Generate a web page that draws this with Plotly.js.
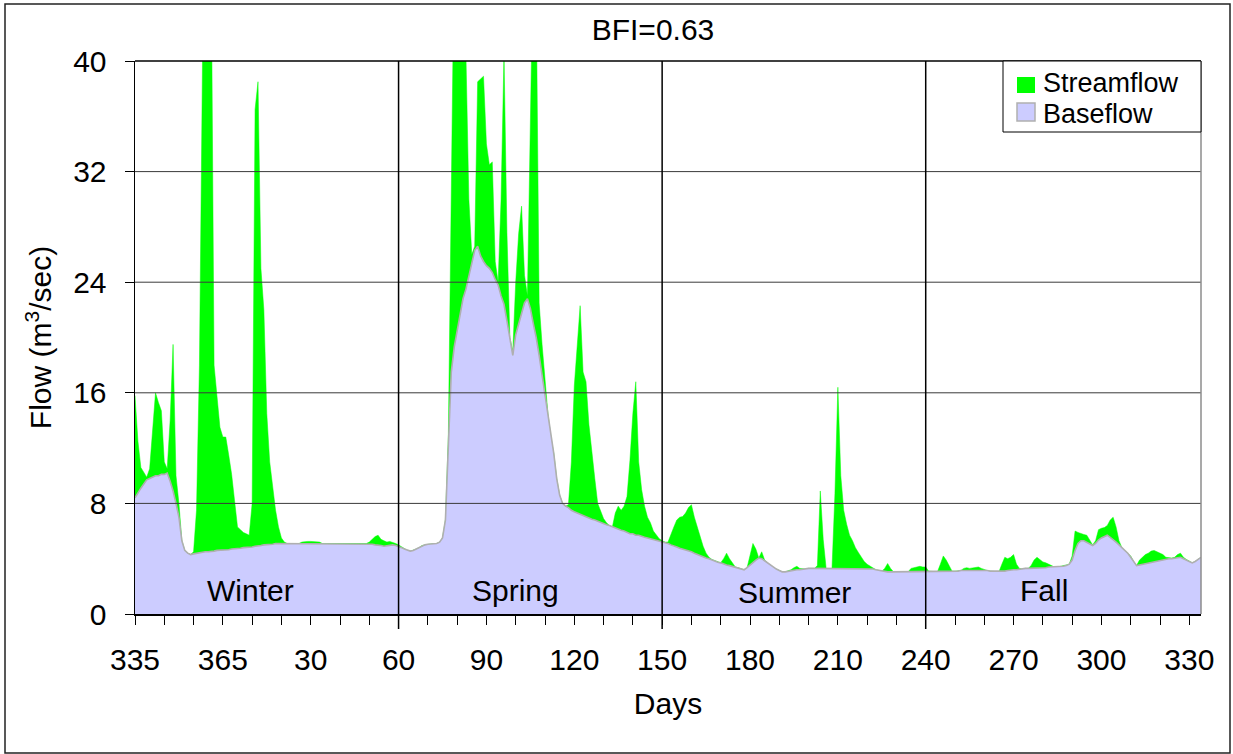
<!DOCTYPE html>
<html>
<head>
<meta charset="utf-8">
<script src="https://cdn.plot.ly/plotly-3.0.1.min.js"></script>
<style>
  html, body { margin: 0; padding: 0; background: #ffffff; }
  #chart { width: 1233px; height: 754px; }
</style>
</head>
<body>
<div id="chart"></div>
<script>
// Day-of-year sequence runs from 335 (1 Dec) through 365 and then 1..334.
const tickPositions = [0, 30, 60, 90, 120, 150, 180, 210, 240, 270, 300, 330, 360];
const tickLabels = ['335', '365', '30', '60', '90', '120', '150', '180', '210', '240', '270', '300', '330'];
const seasonNames = ['Winter', 'Spring', 'Summer', 'Fall'];
const seasonBoundaries = [90, 180, 270]; // days 60, 150, 240
const bfiText = 'BFI=0.63';

// Baseflow (m3/sec), one value per day
const baseflow = [
  8.4, 8.8, 9.1, 9.4, 9.7, 9.8, 9.9, 10.0, 10.0, 10.1,
  10.1, 10.2, 9.6, 8.9, 8.0, 7.0, 5.3, 4.6, 4.4, 4.3,
  4.35, 4.4, 4.45, 4.45, 4.5, 4.5, 4.5, 4.55, 4.6, 4.6,
  4.6, 4.6, 4.65, 4.7, 4.7, 4.7, 4.75, 4.8, 4.8, 4.8,
  4.85, 4.9, 4.9, 4.95, 5.0, 5.0, 5.0, 5.05, 5.1, 5.1,
  5.1, 5.1, 5.1, 5.1, 5.1, 5.1, 5.1, 5.1, 5.1, 5.1,
  5.1, 5.1, 5.1, 5.1, 5.1, 5.1, 5.1, 5.1, 5.1, 5.1,
  5.1, 5.1, 5.1, 5.1, 5.1, 5.1, 5.1, 5.1, 5.1, 5.1,
  5.1, 5.05, 5.0, 5.0, 4.95, 4.9, 4.95, 4.95, 5.0, 4.95,
  4.9, 4.8, 4.7, 4.6, 4.55, 4.6, 4.7, 4.8, 4.95, 5.0,
  5.05, 5.05, 5.1, 5.1, 5.2, 5.5, 6.8, 12.5, 17.5, 19.3,
  20.5, 21.6, 22.8, 23.5, 24.5, 25.4, 26.3, 26.6, 25.9, 25.5,
  25.2, 25.0, 24.7, 24.2, 23.8, 23.0, 22.4, 21.2, 19.8, 18.7,
  20.2, 21.0, 21.7, 22.5, 22.8, 22.1, 21.0, 20.0, 18.7, 17.3,
  15.6, 14.5, 12.8, 11.6, 9.8, 8.6, 8.0, 7.8, 7.7, 7.5,
  7.4, 7.3, 7.2, 7.1, 7.0, 6.95, 6.85, 6.8, 6.7, 6.6,
  6.5, 6.45, 6.4, 6.3, 6.2, 6.1, 6.05, 6.0, 5.9, 5.8,
  5.8, 5.7, 5.7, 5.6, 5.55, 5.5, 5.45, 5.4, 5.3, 5.3,
  5.25, 5.15, 5.1, 5.0, 4.95, 4.85, 4.75, 4.7, 4.6, 4.55,
  4.5, 4.4, 4.3, 4.2, 4.15, 4.05, 4.0, 3.9, 3.85, 3.75,
  3.7, 3.6, 3.55, 3.5, 3.45, 3.4, 3.35, 3.3, 3.2, 3.35,
  3.55, 3.75, 3.9, 4.05, 4.0, 3.85, 3.7, 3.5, 3.35, 3.25,
  3.15, 3.05, 3.05, 3.1, 3.15, 3.2, 3.2, 3.2, 3.25, 3.25,
  3.3, 3.3, 3.3, 3.3, 3.3, 3.3, 3.3, 3.3, 3.3, 3.3,
  3.3, 3.3, 3.3, 3.3, 3.3, 3.3, 3.3, 3.3, 3.3, 3.3,
  3.3, 3.25, 3.25, 3.2, 3.15, 3.1, 3.05, 3.05, 3.05, 3.05,
  3.05, 3.05, 3.05, 3.05, 3.05, 3.05, 3.05, 3.05, 3.05, 3.05,
  3.05, 3.1, 3.1, 3.05, 3.05, 3.05, 3.05, 3.05, 3.1, 3.1,
  3.1, 3.1, 3.15, 3.15, 3.2, 3.2, 3.2, 3.2, 3.2, 3.15,
  3.15, 3.15, 3.1, 3.1, 3.05, 3.05, 3.1, 3.1, 3.15, 3.2,
  3.2, 3.2, 3.25, 3.25, 3.3, 3.3, 3.3, 3.3, 3.35, 3.35,
  3.35, 3.35, 3.4, 3.4, 3.4, 3.4, 3.45, 3.45, 3.5, 3.6,
  3.9, 4.6, 5.1, 5.3, 5.3, 5.2, 5.1, 4.95, 5.1, 5.35,
  5.5, 5.6, 5.7, 5.55, 5.4, 5.2, 5.0, 4.8, 4.55, 4.4,
  4.1, 3.8, 3.5, 3.55, 3.6, 3.65, 3.7, 3.75, 3.8, 3.85,
  3.9, 3.9, 3.95, 4.0, 4.0, 4.05, 4.1, 4.1, 4.0, 3.9,
  3.8, 3.7, 3.8, 3.95, 4.1
];

// Streamflow (m3/sec), one value per day (peaks above 40 are cut by the axis)
const streamflow = [
  15.8, 12.5, 10.6, 10.2, 9.9, 10.5, 13.5, 16.0, 15.3, 14.7,
  11.0, 10.5, 14.0, 19.5, 10.0, 8.0, 5.3, 4.6, 4.4, 4.3,
  4.5, 7.5, 18.0, 42, 60, 55, 48, 18.0, 15.5, 13.5,
  12.8, 12.8, 11.5, 10.1, 8.2, 6.3, 6.1, 5.9, 5.8, 5.7,
  8.0, 36.5, 38.5, 25.0, 22.0, 14.5, 11.0, 9.2, 7.5, 6.3,
  5.5, 5.2, 5.1, 5.1, 5.1, 5.1, 5.1, 5.2, 5.25, 5.25,
  5.25, 5.25, 5.25, 5.2, 5.1, 5.1, 5.1, 5.1, 5.1, 5.1,
  5.1, 5.1, 5.1, 5.1, 5.1, 5.1, 5.1, 5.1, 5.1, 5.1,
  5.2, 5.4, 5.6, 5.7, 5.4, 5.3, 5.2, 5.25, 5.2, 5.1,
  5.0, 4.85, 4.7, 4.6, 4.55, 4.6, 4.7, 4.8, 4.95, 5.0,
  5.05, 5.05, 5.1, 5.1, 5.2, 5.5, 6.8, 13.0, 30.0, 48,
  55, 50, 45, 40.5, 30.0, 26.0, 26.6, 38.5, 38.7, 38.9,
  34.0, 32.5, 32.7, 25.5, 24.0, 30.0, 40.5, 27.6, 20.0, 19.0,
  24.0, 27.5, 29.5, 24.5, 23.0, 35.0, 48, 45, 22.5, 19.5,
  17.0, 14.5, 12.8, 11.6, 9.8, 8.6, 8.0, 7.8, 7.9, 11.0,
  16.5, 19.5, 22.3, 17.5, 16.8, 13.7, 11.6, 9.8, 8.0, 7.5,
  6.9, 6.6, 6.4, 6.3, 7.3, 7.8, 7.5, 7.8, 8.5, 11.1,
  14.5, 16.8, 11.0, 9.0, 7.8, 7.0, 6.6, 6.0, 5.7, 5.45,
  5.3, 5.2, 5.2, 5.8, 6.3, 6.8, 7.0, 7.05, 7.3, 7.7,
  7.9, 7.0, 6.3, 5.5, 4.9, 4.4, 4.1, 3.95, 3.85, 3.75,
  3.7, 4.0, 4.4, 4.0, 3.65, 3.4, 3.35, 3.3, 3.2, 3.35,
  4.3, 5.1, 4.7, 4.05, 4.5, 3.9, 3.7, 3.5, 3.35, 3.25,
  3.15, 3.05, 3.05, 3.1, 3.2, 3.35, 3.45, 3.3, 3.25, 3.25,
  3.3, 3.3, 3.3, 3.5, 8.9, 5.4, 3.3, 3.3, 3.3, 8.7,
  16.4, 10.0, 7.5, 6.5, 5.7, 5.3, 4.8, 4.45, 4.1, 3.8,
  3.6, 3.45, 3.3, 3.2, 3.15, 3.1, 3.3, 3.65, 3.3, 3.05,
  3.05, 3.05, 3.05, 3.05, 3.05, 3.3, 3.35, 3.4, 3.45, 3.4,
  3.4, 3.1, 3.1, 3.05, 3.05, 3.6, 4.2, 3.9, 3.5, 3.1,
  3.1, 3.1, 3.15, 3.3, 3.35, 3.3, 3.35, 3.4, 3.4, 3.3,
  3.2, 3.15, 3.1, 3.1, 3.05, 3.05, 3.6, 4.1, 4.0, 4.1,
  4.3, 3.6, 3.3, 3.25, 3.3, 3.3, 3.5, 3.9, 4.1, 3.9,
  3.77, 3.7, 3.6, 3.5, 3.4, 3.4, 3.45, 3.45, 3.5, 3.6,
  4.2, 6.0, 5.9, 5.8, 5.75, 5.7, 5.3, 5.0, 5.3, 6.1,
  6.2, 6.25, 6.4, 6.8, 7.0, 6.3, 5.3, 4.8, 4.57, 4.4,
  4.2, 3.8, 3.5, 3.9, 4.14, 4.3, 4.4, 4.55, 4.6, 4.5,
  4.45, 4.3, 4.1, 4.07, 4.05, 4.1, 4.3, 4.4, 4.1, 3.95,
  3.8, 3.7, 3.8, 3.95, 4.1
];

const dayIndex = streamflow.map((_, i) => i);

const FONT = 'Liberation Sans, Arial, Helvetica, sans-serif';
const FS = 30;
const LEGFS = 27;

// plot area in px: left 135, right 1201, top 61, bottom 614
const L = 135, R = 32, T = 61, B = 140, W = 1233, H = 754;
const pw = W - L - R, ph = H - T - B;
const px = x => (x - L) / pw;
const py = y => (H - B - y) / ph;

const traces = [
  {
    x: dayIndex, y: streamflow, type: 'scatter', mode: 'lines',
    name: 'Streamflow', fill: 'tozeroy', fillcolor: '#00FF00',
    line: { color: '#00FF00', width: 0.5 }, showlegend: false, hoverinfo: 'x+y'
  },
  {
    x: dayIndex, y: baseflow, type: 'scatter', mode: 'lines',
    name: 'Baseflow', fill: 'tozeroy', fillcolor: '#CCCCFF',
    line: { color: '#AFAFAF', width: 1.6 }, showlegend: false, hoverinfo: 'x+y'
  }
];

const shapes = [];
// horizontal grid lines above the areas
[8, 16, 24, 32].forEach(v => shapes.push({
  type: 'line', xref: 'paper', yref: 'y', x0: 0, x1: 1, y0: v, y1: v,
  line: { color: '#3a3a3a', width: 1 }, layer: 'above'
}));
// top border (40) and right border
shapes.push({ type: 'line', xref: 'paper', yref: 'paper', x0: 0, x1: 1, y0: 1, y1: 1,
  line: { color: '#000', width: 1.5 }, layer: 'above' });
shapes.push({ type: 'line', xref: 'paper', yref: 'paper', x0: 1, x1: 1, y0: 0, y1: 1,
  line: { color: '#8c8c8c', width: 1.5 }, layer: 'above' });
// season separators
seasonBoundaries.forEach(b => shapes.push({
  type: 'line', xref: 'x', yref: 'paper', x0: b, x1: b, y0: py(629), y1: 1,
  line: { color: '#000', width: 1.5 }, layer: 'above'
}));
// outer frame of the figure
shapes.push({ type: 'rect', xref: 'paper', yref: 'paper',
  x0: px(5), x1: px(1230), y0: py(753), y1: py(4),
  line: { color: '#222', width: 1.5 }, fillcolor: 'rgba(0,0,0,0)', layer: 'above' });
// legend box
shapes.push({ type: 'rect', xref: 'paper', yref: 'paper',
  x0: px(1003), x1: 1, y0: py(132), y1: 1,
  line: { color: '#000', width: 1 }, fillcolor: '#FFFFFF', layer: 'above' });
shapes.push({ type: 'rect', xref: 'paper', yref: 'paper',
  x0: px(1017), x1: px(1035), y0: py(93), y1: py(77),
  line: { color: '#00FF00', width: 0 }, fillcolor: '#00FF00', layer: 'above' });
shapes.push({ type: 'rect', xref: 'paper', yref: 'paper',
  x0: px(1017), x1: px(1035), y0: py(121), y1: py(103),
  line: { color: '#B0B0B0', width: 1.5 }, fillcolor: '#CCCCFF', layer: 'above' });

const seasonPos = [[39.3, 1.71], [129.8, 1.71], [225.3, 1.55], [310.4, 1.71]];
const annotations = seasonNames.map((s, k) => ({
  x: seasonPos[k][0], y: seasonPos[k][1], xref: 'x', yref: 'y', text: s,
  showarrow: false, xanchor: 'center', yanchor: 'middle',
  font: { family: FONT, size: FS, color: '#000' }
}));
annotations.push({ xref: 'paper', yref: 'paper', x: px(1042), y: py(83), text: 'Streamflow',
  showarrow: false, xanchor: 'left', yanchor: 'middle', borderpad: 0,
  font: { family: FONT, size: LEGFS, color: '#000' } });
annotations.push({ xref: 'paper', yref: 'paper', x: px(1042), y: py(114), text: 'Baseflow',
  showarrow: false, xanchor: 'left', yanchor: 'middle', borderpad: 0,
  font: { family: FONT, size: LEGFS, color: '#000' } });

const layout = {
  width: W, height: H,
  margin: { l: L, r: R, t: T, b: B },
  paper_bgcolor: '#FFFFFF', plot_bgcolor: '#FFFFFF',
  font: { family: FONT, color: '#000' },
  showlegend: false,
  title: {
    text: bfiText, font: { family: FONT, size: FS, color: '#000' },
    xref: 'container', x: 653 / W, xanchor: 'center',
    yref: 'container', y: 1 - 29 / H, yanchor: 'middle'
  },
  xaxis: {
    range: [0, 364], tickmode: 'array', tickvals: tickPositions, ticktext: tickLabels,
    ticks: 'outside', ticklen: 9, tickwidth: 1, tickcolor: '#000',
    showline: true, linecolor: '#000', linewidth: 1.5,
    showgrid: false, zeroline: false, fixedrange: true,
    tickfont: { family: FONT, size: FS, color: '#000' },
    ticklabelstandoff: 9,
    minor: { tickmode: 'linear', tick0: 0, dtick: 10, ticks: 'outside', ticklen: 9,
             tickwidth: 1, tickcolor: '#000', showgrid: false },
    title: { text: 'Days', font: { family: FONT, size: FS, color: '#000' }, standoff: 18 }
  },
  yaxis: {
    range: [0, 40], tickmode: 'linear', tick0: 0, dtick: 8,
    ticks: 'outside', ticklen: 9, tickwidth: 1, tickcolor: '#000',
    showline: true, linecolor: '#000', linewidth: 1.5,
    showgrid: false, zeroline: false, fixedrange: true,
    tickfont: { family: FONT, size: FS, color: '#000' },
    ticklabelstandoff: 12,
    title: { text: 'Flow (m<sup>3</sup>/sec)', font: { family: FONT, size: FS, color: '#000' }, standoff: 12 }
  },
  shapes: shapes,
  annotations: annotations
};

Plotly.newPlot('chart', traces, layout, { displayModeBar: false, staticPlot: true });
</script>
</body>
</html>
